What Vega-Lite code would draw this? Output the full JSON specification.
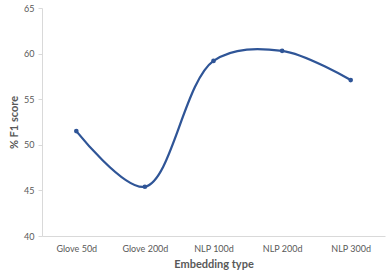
{
  "$schema": "https://vega.github.io/schema/vega-lite/v6.json",
  "width": 343,
  "height": 228,
  "autosize": {"type": "none"},
  "padding": {"left": 42, "top": 8, "right": 7, "bottom": 42},
  "config": {
    "view": {"stroke": null},
    "font": "Lato"
  },
  "data": {
    "values": [
      {"embedding": "Glove 50d", "f1": 51.5},
      {"embedding": "Glove 200d", "f1": 45.4},
      {"embedding": "NLP 100d", "f1": 59.2},
      {"embedding": "NLP 200d", "f1": 60.3},
      {"embedding": "NLP 300d", "f1": 57.1}
    ]
  },
  "encoding": {
    "x": {
      "field": "embedding",
      "type": "ordinal",
      "sort": null,
      "scale": {"padding": 0.5},
      "axis": {
        "title": "Embedding type",
        "labelAngle": 0,
        "ticks": false,
        "grid": false,
        "domainColor": "#d9d9d9",
        "labelColor": "#595959",
        "labelFontSize": 9,
        "labelPadding": 8,
        "titleColor": "#595959",
        "titleFontSize": 11,
        "titleFontWeight": "bold",
        "titlePadding": 5
      }
    },
    "y": {
      "field": "f1",
      "type": "quantitative",
      "scale": {"domain": [40, 65], "zero": false, "nice": false},
      "axis": {
        "title": "% F1 score",
        "values": [40, 45, 50, 55, 60, 65],
        "grid": false,
        "domainColor": "#d9d9d9",
        "tickColor": "#d9d9d9",
        "tickSize": 4,
        "labelColor": "#595959",
        "labelFontSize": 9,
        "labelPadding": 4,
        "titleColor": "#595959",
        "titleFontSize": 11,
        "titleFontWeight": "bold",
        "titlePadding": 4
      }
    }
  },
  "layer": [
    {
      "mark": {"type": "line", "interpolate": "catmull-rom", "color": "#2f5597", "strokeWidth": 2.25}
    },
    {
      "mark": {"type": "point", "filled": true, "opacity": 1, "color": "#2f5597", "size": 22}
    }
  ]
}
